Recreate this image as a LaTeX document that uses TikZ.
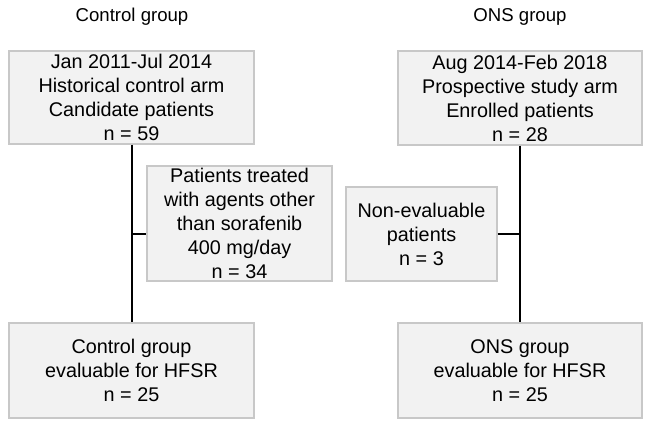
\documentclass[tikz,border=0pt]{standalone}
\usepackage{fontspec}
\setmainfont{Liberation Sans}
\usetikzlibrary{calc}
\definecolor{boxfill}{HTML}{F2F2F2}
\definecolor{boxline}{HTML}{C8C8C8}

\tikzset{
	flowbox/.style={draw=boxline, line width=1.2pt, fill=boxfill, align=center,
		inner sep=0pt, font=\fontsize{19.8}{24}\selectfont},
	grouplabel/.style={font=\fontsize{18.6}{22}\selectfont},
	link/.style={line width=2pt, color=black}
}

\begin{document}
\begin{tikzpicture}[x=1pt, y=-1pt]
			%%%%% START %%%%%
			\useasboundingbox (0, 0) rectangle (649, 427);
			
			\node[grouplabel] (ctitle) at (132, 17) {Control group};
			\node[grouplabel] (otitle) at (520, 17) {ONS group};
			
			\node[flowbox, minimum width=245pt, minimum height=93pt] (cand) at (131.5, 97.5)
				{Jan 2011-Jul 2014\\Historical control arm\\Candidate patients\\n = 59};
			\node[flowbox, minimum width=244pt, minimum height=94pt] (enrol) at (520, 98)
				{Aug 2014-Feb 2018\\Prospective study arm\\Enrolled patients\\n = 28};
			
			\node[flowbox, minimum width=185pt, minimum height=115pt] (other) at (239.5, 223.5)
				{Patients treated\\with agents other\\than sorafenib\\400 mg/day\\n = 34};
			\node[flowbox, minimum width=151pt, minimum height=94pt] (nonev) at (421.5, 234)
				{Non-evaluable\\patients\\n = 3};
			
			\node[flowbox, minimum width=245pt, minimum height=95pt] (evalc) at (131.5, 370.5)
				{Control group\\evaluable for HFSR\\n = 25};
			\node[flowbox, minimum width=244pt, minimum height=95pt] (evalo) at (520, 370.5)
				{ONS group\\evaluable for HFSR\\n = 25};
			
			\draw[link] (cand.south) -- (evalc.north);
			\draw[link] (enrol.south) -- (evalo.north);
			\draw[link] (cand.south |- nonev.east) -- (other.west |- nonev.east);
			\draw[link] (nonev.east) -- (enrol.south |- nonev.east);
			
			%%%%% END %%%%%
\end{tikzpicture}
\end{document}
